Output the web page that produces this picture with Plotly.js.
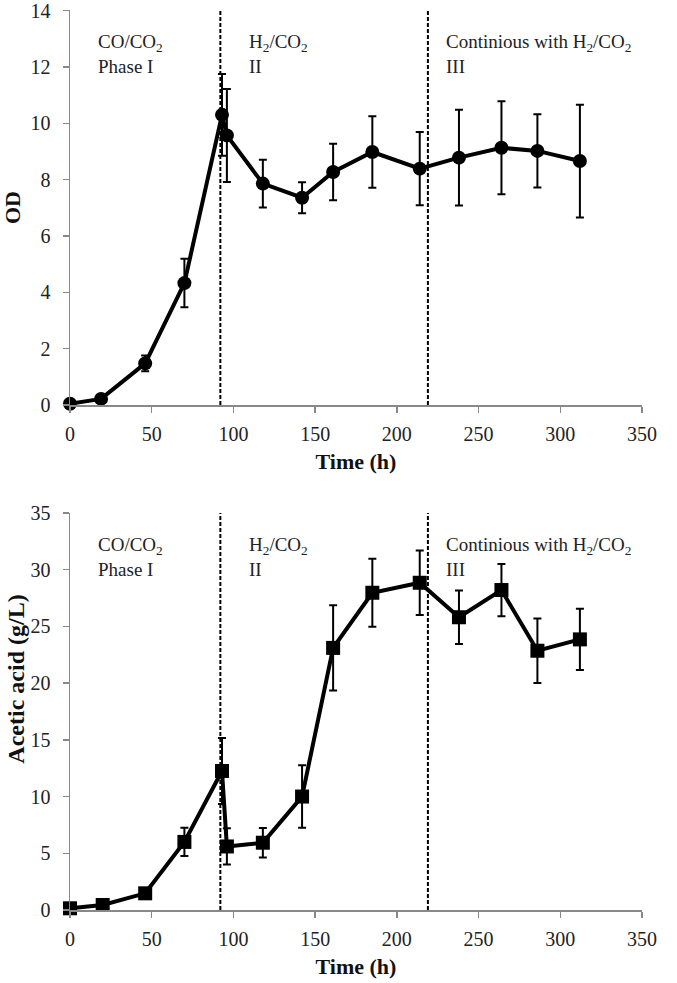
<!DOCTYPE html>
<html>
<head>
<meta charset="utf-8">
<script src="https://cdn.plot.ly/plotly-3.0.1.min.js"></script>
<style>
html,body{margin:0;padding:0;background:#fff;}
#chart{width:677px;height:983px;}
</style>
</head>
<body>
<div id="chart"></div>
<script>
// OD data (top panel)
var timeOD = [0, 19, 46, 70, 93, 96, 118, 142, 161, 185, 214, 238, 264, 286, 312];
var odValues = [0.05, 0.22, 1.48, 4.33, 10.3, 9.57, 7.86, 7.36, 8.27, 8.98, 8.39, 8.78, 9.13, 9.02, 8.66];
var odErrors = [0.05, 0.08, 0.28, 0.86, 1.45, 1.65, 0.85, 0.55, 1.0, 1.27, 1.3, 1.7, 1.65, 1.3, 2.0];

// Acetic acid data (bottom panel)
var timeAcetic = [0, 20, 46, 70, 93, 96, 118, 142, 161, 185, 214, 238, 264, 286, 312];
var aceticValues = [0.15, 0.44, 1.47, 6.0, 12.25, 5.6, 5.93, 10.0, 23.1, 27.96, 28.84, 25.8, 28.2, 22.85, 23.85];
var aceticErrors = [0.1, 0.1, 0.2, 1.25, 2.9, 1.6, 1.3, 2.75, 3.75, 3.0, 2.85, 2.35, 2.3, 2.85, 2.7];

// Phase boundaries and labels
var phaseBoundaries = [92, 219];
var phaseLabelX = [16, 108, 229];
var phaseLabels = ["CO/CO<sub>2</sub><br>Phase I", "H<sub>2</sub>/CO<sub>2</sub><br>II", "Continious with H<sub>2</sub>/CO<sub>2</sub><br>III"];

var xTickVals = [0, 50, 100, 150, 200, 250, 300, 350];
var odTickVals = [0, 2, 4, 6, 8, 10, 12, 14];
var aceticTickVals = [0, 5, 10, 15, 20, 25, 30, 35];

var FONT = "Liberation Serif";
var AXISCOL = "#888888";

var traces = [
  {
    x: timeOD, y: odValues, type: "scatter", mode: "lines+markers",
    xaxis: "x", yaxis: "y",
    line: {color: "#000", width: 4},
    marker: {symbol: "circle", size: 14, color: "#000"},
    error_y: {type: "data", array: odErrors, visible: true, color: "#000", thickness: 2, width: 4},
    cliponaxis: false, showlegend: false
  },
  {
    x: timeAcetic, y: aceticValues, type: "scatter", mode: "lines+markers",
    xaxis: "x2", yaxis: "y2",
    line: {color: "#000", width: 4},
    marker: {symbol: "square", size: 14, color: "#000"},
    error_y: {type: "data", array: aceticErrors, visible: true, color: "#000", thickness: 2, width: 4},
    cliponaxis: false, showlegend: false
  }
];

function xAxis(anchor) {
  return {
    anchor: anchor, domain: [0, 1], range: [0, 350],
    tickmode: "array", tickvals: xTickVals, ticktext: xTickVals.map(String),
    ticks: "outside", ticklen: 6, tickwidth: 1.5, tickcolor: AXISCOL,
    showline: true, linecolor: AXISCOL, linewidth: 1.5, showgrid: false, zeroline: false,
    tickfont: {family: FONT, size: 20, color: "#222"},
    ticklabelstandoff: 4, ticklabeloverflow: "allow",
    title: {text: "<b>Time (h)</b>", font: {family: FONT, size: 22, color: "#111"}, standoff: 10}
  };
}
function yAxis(anchor, domain, range, tickvals, title, tsize) {
  return {
    anchor: anchor, domain: domain, range: range,
    tickmode: "array", tickvals: tickvals, ticktext: tickvals.map(String),
    ticks: "outside", ticklen: 6, tickwidth: 1.5, tickcolor: AXISCOL,
    showline: true, linecolor: AXISCOL, linewidth: 1.5, showgrid: false, zeroline: false,
    tickfont: {family: FONT, size: 20, color: "#222"},
    ticklabelstandoff: 8, ticklabeloverflow: "allow",
    title: {text: title, font: {family: FONT, size: tsize, color: "#111"}, standoff: 6}
  };
}

var shapes = [];
[["x", "y", 14], ["x2", "y2", 35]].forEach(function (ax) {
  phaseBoundaries.forEach(function (b) {
    shapes.push({
      type: "line", xref: ax[0], yref: ax[1], x0: b, x1: b, y0: 0, y1: ax[2],
      line: {color: "#000", width: 2, dash: "4px,2px"}, layer: "below"
    });
  });
});

var annotations = [];
[["x", "y", 13.35], ["x2", "y2", 33.3]].forEach(function (ax) {
  phaseLabels.forEach(function (t, i) {
    annotations.push({
      xref: ax[0], yref: ax[1], x: phaseLabelX[i], y: ax[2],
      xanchor: "left", yanchor: "top", align: "left", showarrow: false,
      text: t, font: {family: FONT, size: 19, color: "#222"}
    });
  });
});
// y title of the lower panel, placed as in the reference (not centred on the axis)
annotations.push({
  xref: "paper", yref: "y2 domain", x: -0.096, y: 0.58,
  xanchor: "center", yanchor: "middle", textangle: -90, showarrow: false,
  text: "<b>Acetic acid (g/L)</b>", font: {family: FONT, size: 24, color: "#111"}
});

var layout = {
  width: 677, height: 983,
  font: {family: FONT, color: "#222"},
  margin: {l: 70, r: 35, t: 10, b: 73},
  paper_bgcolor: "#fff", plot_bgcolor: "#fff",
  xaxis: xAxis("y"),
  yaxis: yAxis("x", [0.561, 1], [0, 14.02], odTickVals, "<b>OD</b>", 22),
  xaxis2: xAxis("y2"),
  yaxis2: yAxis("x2", [0, 0.4415], [0, 35.02], aceticTickVals, "", 22),
  shapes: shapes,
  annotations: annotations,
  showlegend: false
};

Plotly.newPlot("chart", traces, layout, {displayModeBar: false, staticPlot: true});
</script>
</body>
</html>
